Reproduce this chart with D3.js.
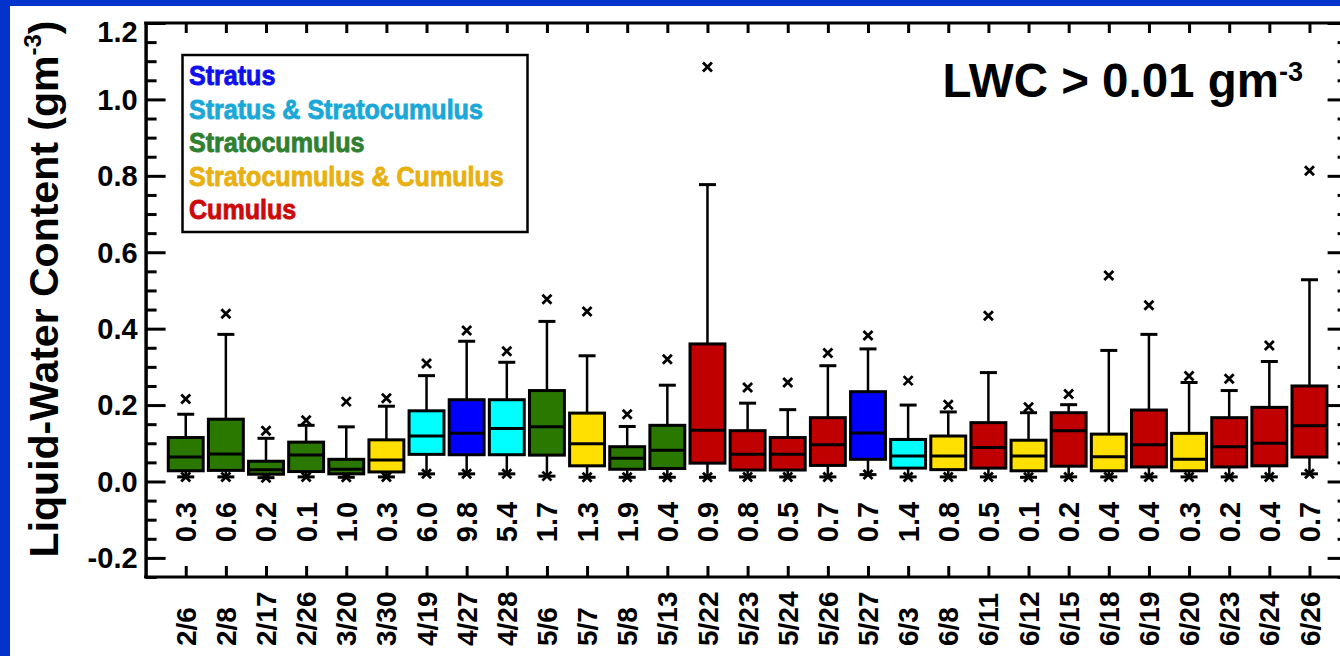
<!DOCTYPE html>
<html>
<head>
<meta charset="utf-8">
<script src="https://cdn.jsdelivr.net/npm/d3@7"></script>
<style>
  html, body { margin: 0; padding: 0; background: #0433cc; overflow: hidden; }
  svg { display: block; }
  text { font-family: "Liberation Sans", Arial, Helvetica, sans-serif; font-weight: bold; }
</style>
</head>
<body>
<svg id="chart" width="1340" height="656"></svg>
<script>
// ---- data ----
const dates = ["2/6","2/8","2/17","2/26","3/20","3/30","4/19","4/27","4/28","5/6","5/7","5/8","5/13","5/22","5/23","5/24","5/26","5/27","6/3","6/8","6/11","6/12","6/15","6/18","6/19","6/20","6/23","6/24","6/26"];
const hours = ["0.3","0.6","0.2","0.1","1.0","0.3","6.0","9.8","5.4","1.7","1.3","1.9","0.4","0.9","0.8","0.5","0.7","0.7","1.4","0.8","0.5","0.1","0.2","0.4","0.4","0.3","0.2","0.4","0.7"];
const cloudType = ["Sc","Sc","Sc","Sc","Sc","ScCu","StSc","St","StSc","Sc","ScCu","Sc","Sc","Cu","Cu","Cu","Cu","St","StSc","ScCu","Cu","ScCu","Cu","ScCu","Cu","ScCu","Cu","Cu","Cu"];
const maxValues    = [0.216,0.439,0.133,0.160,0.209,0.218,0.309,0.395,0.341,0.477,0.445,0.176,0.320,1.085,0.246,0.259,0.336,0.382,0.264,0.201,0.434,0.194,0.229,0.539,0.461,0.276,0.269,0.356,0.813];
const upperWhisker = [0.176,0.385,0.113,0.147,0.143,0.197,0.277,0.367,0.312,0.419,0.329,0.144,0.252,0.777,0.205,0.188,0.303,0.347,0.200,0.182,0.285,0.180,0.201,0.343,0.385,0.259,0.238,0.314,0.528];
const q3Values     = [0.115,0.163,0.053,0.103,0.058,0.109,0.185,0.214,0.214,0.238,0.179,0.091,0.147,0.360,0.133,0.115,0.167,0.235,0.110,0.119,0.154,0.108,0.180,0.124,0.187,0.126,0.167,0.194,0.250];
const medianValues = [0.064,0.072,0.031,0.069,0.032,0.056,0.119,0.126,0.139,0.143,0.099,0.061,0.082,0.134,0.071,0.071,0.096,0.127,0.067,0.067,0.089,0.067,0.133,0.065,0.096,0.058,0.091,0.100,0.146];
const q1Values     = [0.028,0.029,0.019,0.026,0.020,0.025,0.071,0.070,0.070,0.069,0.041,0.032,0.034,0.048,0.030,0.030,0.042,0.058,0.035,0.031,0.035,0.028,0.040,0.028,0.038,0.028,0.038,0.041,0.064];
const lowerWhisker = [0.012,0.012,0.010,0.012,0.011,0.012,0.020,0.020,0.020,0.014,0.011,0.011,0.011,0.011,0.012,0.012,0.012,0.018,0.012,0.012,0.012,0.011,0.012,0.012,0.012,0.012,0.012,0.012,0.020];
const minValues    = lowerWhisker;

const legendKeys   = ["St","StSc","Sc","ScCu","Cu"];
const legendLabels = ["Stratus","Stratus & Stratocumulus","Stratocumulus","Stratocumulus & Cumulus","Cumulus"];
const boxColors    = {St:"#0000ff", StSc:"#00ffff", Sc:"#2a7800", ScCu:"#ffe000", Cu:"#c00000"};
const legendColors = {St:"#1010ee", StSc:"#1aa8d8", Sc:"#2f8030", ScCu:"#e8b010", Cu:"#cc0a0a"};
const yMajorTicks  = [-0.2,0.0,0.2,0.4,0.6,0.8,1.0,1.2];

(function(){
const svg = d3.select("#chart");
svg.append("rect").attr("x",10).attr("y",6).attr("width",1340).attr("height",660).attr("fill","#ffffff");

const pL = 145.6, pR = 1349.6, pT = 23, pB = 577;
const x = d3.scalePoint().domain(dates).range([pL, pR]).padding(1);
const y = d3.scaleLinear().domain([-0.25, 1.2]).range([pB, pT]);
const step = x.step();
const boxW = step * 0.87;
const capW = 17;

const rows = dates.map((d,i) => ({
  date:d, hrs:hours[i], type:cloudType[i], max:maxValues[i], hi:upperWhisker[i],
  q3:q3Values[i], med:medianValues[i], q1:q1Values[i], lo:lowerWhisker[i], min:minValues[i]
}));

const minorTicks = d3.range(-25, 121, 5).map(v => v/100).filter(v => Math.abs(Math.round(v*100) % 20) !== 0);
const fmt = d => d3.format(".1f")(d).replace("\u2212","-");

const axW = 3;
function styleAxis(g){
  g.selectAll("path.domain").attr("stroke","#000").attr("stroke-width",axW);
  g.selectAll(".tick line").attr("stroke","#000").attr("stroke-width",axW);
}
const gl = svg.append("g").attr("transform",`translate(${pL},0)`)
  .call(d3.axisLeft(y).tickValues(yMajorTicks).tickSizeInner(-20).tickSizeOuter(0).tickPadding(8).tickFormat(fmt));
styleAxis(gl);
gl.selectAll(".tick text").attr("font-size",29).attr("fill","#000")
  .attr("font-family","'Liberation Sans', Arial, sans-serif").attr("font-weight","bold")
  .attr("dy", d => d === 1.2 ? "0.64em" : "0.34em");
const glm = svg.append("g").attr("transform",`translate(${pL},0)`)
  .call(d3.axisLeft(y).tickValues(minorTicks).tickSizeInner(-11).tickSizeOuter(0).tickFormat(""));
styleAxis(glm);
const gr = svg.append("g").attr("transform",`translate(${pR},0)`)
  .call(d3.axisRight(y).tickValues(yMajorTicks).tickSizeInner(-22).tickSizeOuter(0).tickFormat(""));
styleAxis(gr);
const grm = svg.append("g").attr("transform",`translate(${pR},0)`)
  .call(d3.axisRight(y).tickValues(minorTicks).tickSizeInner(-12).tickSizeOuter(0).tickFormat(""));
styleAxis(grm);
const gb = svg.append("g").attr("transform",`translate(0,${pB})`)
  .call(d3.axisBottom(x).tickSizeInner(-11).tickSizeOuter(0).tickFormat(""));
styleAxis(gb);
gb.select("path.domain").attr("d",`M${pL-1.5},0H${pR+1.5}`);
const gt = svg.append("g").attr("transform",`translate(0,${pT})`)
  .call(d3.axisTop(x).tickSizeInner(-10).tickSizeOuter(0).tickFormat(""));
styleAxis(gt);
gt.select("path.domain").attr("d",`M${pL-1.5},0H${pR+1.5}`);

// boxes
const bx = svg.append("g").selectAll("g.box").data(rows).join("g").attr("class","box");
bx.append("line").attr("x1",d=>x(d.date)).attr("x2",d=>x(d.date)).attr("y1",d=>y(d.q3)).attr("y2",d=>y(d.hi))
  .attr("stroke","#000").attr("stroke-width",2.5);
bx.append("line").attr("x1",d=>x(d.date)).attr("x2",d=>x(d.date)).attr("y1",d=>y(d.q1)).attr("y2",d=>y(d.lo))
  .attr("stroke","#000").attr("stroke-width",2.5);
bx.append("line").attr("x1",d=>x(d.date)-capW/2).attr("x2",d=>x(d.date)+capW/2).attr("y1",d=>y(d.hi)).attr("y2",d=>y(d.hi))
  .attr("stroke","#000").attr("stroke-width",3);
bx.append("line").attr("x1",d=>x(d.date)-capW/2).attr("x2",d=>x(d.date)+capW/2).attr("y1",d=>y(d.lo)).attr("y2",d=>y(d.lo))
  .attr("stroke","#000").attr("stroke-width",3);
bx.append("rect").attr("x",d=>x(d.date)-boxW/2).attr("width",boxW)
  .attr("y",d=>y(d.q3)).attr("height",d=>y(d.q1)-y(d.q3))
  .attr("fill",d=>boxColors[d.type]).attr("stroke","#000").attr("stroke-width",3);
bx.append("line").attr("x1",d=>x(d.date)-boxW/2).attr("x2",d=>x(d.date)+boxW/2).attr("y1",d=>y(d.med)).attr("y2",d=>y(d.med))
  .attr("stroke","#000").attr("stroke-width",3);
function cross(g, acc){
  const s = 4.5;
  g.append("path").attr("d", d => {
    const cx = x(d.date), cy = y(acc(d));
    return `M${cx-s},${cy-s}L${cx+s},${cy+s}M${cx-s},${cy+s}L${cx+s},${cy-s}`;
  }).attr("stroke","#000").attr("stroke-width",2.8).attr("fill","none");
}
cross(bx, d => d.max);
cross(bx, d => d.min);

// hours labels
svg.append("g").selectAll("text").data(rows).join("text")
  .attr("transform", d => `translate(${x(d.date)},522) rotate(-90)`)
  .attr("text-anchor","middle").attr("dy","0.36em")
  .attr("font-size",29).attr("fill","#000").text(d => d.hrs);
// date labels
svg.append("g").selectAll("text").data(rows).join("text")
  .attr("transform", d => `translate(${x(d.date)},646) rotate(-90)`)
  .attr("text-anchor","start").attr("dy","0.36em")
  .attr("font-size",28).attr("fill","#000").text(d => d.date);

// y title
const yt = svg.append("text").attr("transform","translate(58,289) rotate(-90)")
  .attr("text-anchor","middle").attr("font-size",41).attr("fill","#000");
yt.append("tspan").text("Liquid-Water Content (gm");
yt.append("tspan").attr("font-size",24).attr("dy",-17).text("-3");
yt.append("tspan").attr("dy",17).text(")");

// annotation title
const tt = svg.append("text").attr("x",1303).attr("y",97).attr("text-anchor","end")
  .attr("font-size",47.5).attr("fill","#000");
tt.append("tspan").text("LWC > 0.01 gm");
tt.append("tspan").attr("font-size",27).attr("dy",-16).text("-3");

// legend
const lg = svg.append("g");
lg.append("rect").attr("x",182.5).attr("y",55).attr("width",345).attr("height",177)
  .attr("fill","#fff").attr("stroke","#000").attr("stroke-width",2.5);
lg.selectAll("text").data(legendKeys).join("text")
  .attr("transform",(d,i) => `translate(189,${85 + i*33.6}) scale(0.88,1)`)
  .attr("font-family","Roboto, 'Liberation Sans', sans-serif")
  .attr("font-size",28.5)
  .attr("fill", d => legendColors[d])
  .attr("stroke", d => legendColors[d]).attr("stroke-width",0.9)
  .text((d,i) => legendLabels[i]);
})();
</script>
</body>
</html>
